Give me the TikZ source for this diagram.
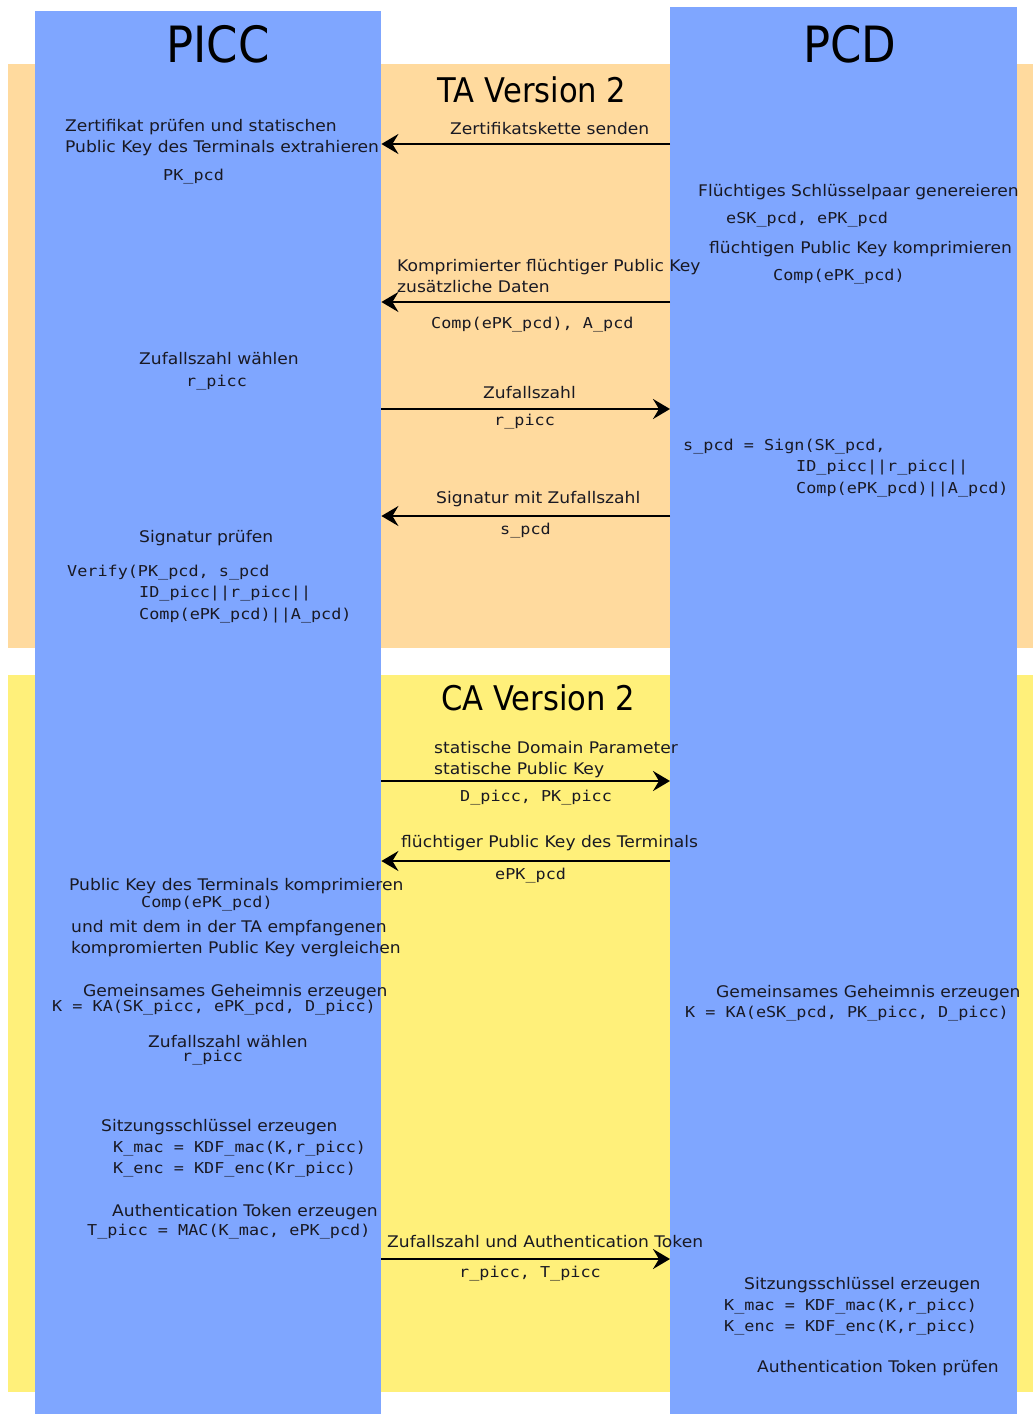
\documentclass[tikz,border=0pt]{standalone}
\usepackage{fontspec}
\setmainfont{DejaVu Sans}[FakeStretch=1.07]
\newfontfamily\titlefont{DejaVu Sans}[FakeStretch=0.9]
\newfontfamily\codefont{DejaVu Sans Mono}[FakeStretch=1.12]
\usetikzlibrary{arrows.meta}
\definecolor{taband}{RGB}{255,218,158}
\definecolor{caband}{RGB}{255,240,122}
\definecolor{lane}{RGB}{127,166,255}
\definecolor{ink}{RGB}{25,25,35}

\begin{document}
\begin{tikzpicture}[x=1pt,y=-1pt,
  txt/.style={inner sep=0pt, anchor=base west, text=ink, font=\fontsize{16}{19}\selectfont},
  code/.style={txt, font=\codefont\fontsize{15}{18}\selectfont},
  title/.style={inner sep=0pt, anchor=base, text=black, font=\titlefont\fontsize{50}{54}\selectfont},
  phase/.style={inner sep=0pt, anchor=base, text=black, font=\titlefont\fontsize{34}{38}\selectfont},
  band/.style={draw=none, inner sep=0pt, anchor=north west},
  lanebox/.style={fill=lane, draw=none, inner sep=0pt, anchor=north west},
  msg/.style={line width=2.5pt, -{Stealth[length=17pt,width=20pt,inset=6pt]}},
]
\useasboundingbox (0,0) rectangle (1033,1414);

% protocol phases
\node[band, fill=taband, minimum width=1025pt, minimum height=584pt] (ta) at (8,64) {};
\node[band, fill=caband, minimum width=1025pt, minimum height=717pt] (ca) at (8,675) {};

% participants
\node[lanebox, minimum width=346pt, minimum height=1403pt] (picc) at (35,11) {};
\node[lanebox, minimum width=347pt, minimum height=1407pt] (pcd) at (670,7) {};

\node[title] (piccT) at (218,62) {PICC};
\node[title] (pcdT) at (850,62) {PCD};
\node[phase] (taT) at (532,102) {TA Version 2};
\node[phase] (caT) at (538,710) {CA Version 2};

% ---------- Terminal Authentication ----------
\draw[msg] (pcd.west |- 0,144) -- (picc.east |- 0,144);
\node[txt] (m1) at (450,134) {Zertifikatskette senden};

\node[txt] (p1a) at (65,131) {Zertifikat prüfen und statischen};
\node[txt] (p1b) at (65,152) {Public Key des Terminals extrahieren};
\node[code] (p1c) at (163,180) {PK\_pcd};

\node[txt] (d1a) at (698,196) {Flüchtiges Schlüsselpaar genereieren};
\node[code] (d1b) at (726,223) {eSK\_pcd, ePK\_pcd};
\node[txt] (d1c) at (709,253) {flüchtigen Public Key komprimieren};
\node[code] (d1d) at (773,280) {Comp(ePK\_pcd)};

\draw[msg] (pcd.west |- 0,302) -- (picc.east |- 0,302);
\node[txt] (m2a) at (397,271) {Komprimierter flüchtiger Public Key};
\node[txt] (m2b) at (397,292) {zusätzliche Daten};
\node[code] (m2c) at (431,328) {Comp(ePK\_pcd), A\_pcd};

\node[txt] (p2a) at (139,364) {Zufallszahl wählen};
\node[code] (p2b) at (186,386) {r\_picc};

\draw[msg] (picc.east |- 0,409) -- (pcd.west |- 0,409);
\node[txt] (m3a) at (483,398) {Zufallszahl};
\node[code] (m3b) at (494,425) {r\_picc};

\node[code] (d2a) at (683,450) {s\_pcd = Sign(SK\_pcd,};
\node[code] (d2b) at (796,471) {ID\_picc||r\_picc||};
\node[code] (d2c) at (796,493) {Comp(ePK\_pcd)||A\_pcd)};

\draw[msg] (pcd.west |- 0,516) -- (picc.east |- 0,516);
\node[txt] (m4a) at (436,503) {Signatur mit Zufallszahl};
\node[code] (m4b) at (500,534) {s\_pcd};

\node[txt] (p3a) at (139,542) {Signatur prüfen};
\node[code] (p3b) at (67,576) {Verify(PK\_pcd, s\_pcd};
\node[code] (p3c) at (139,597) {ID\_picc||r\_picc||};
\node[code] (p3d) at (139,619) {Comp(ePK\_pcd)||A\_pcd)};

% ---------- Chip Authentication ----------
\draw[msg] (picc.east |- 0,781) -- (pcd.west |- 0,781);
\node[txt] (m5a) at (434,753) {statische Domain Parameter};
\node[txt] (m5b) at (434,774) {statische Public Key};
\node[code] (m5c) at (460,801) {D\_picc, PK\_picc};

\draw[msg] (pcd.west |- 0,861) -- (picc.east |- 0,861);
\node[txt] (m6a) at (401,847) {flüchtiger Public Key des Terminals};
\node[code] (m6b) at (495,879) {ePK\_pcd};

\node[txt] (p4a) at (69,890) {Public Key des Terminals komprimieren};
\node[code] (p4b) at (141,907) {Comp(ePK\_pcd)};
\node[txt] (p4c) at (71,932) {und mit dem in der TA empfangenen};
\node[txt] (p4d) at (71,953) {kompromierten Public Key vergleichen};

\node[txt] (p5a) at (83,996) {Gemeinsames Geheimnis erzeugen};
\node[code] (p5b) at (52,1011) {K = KA(SK\_picc, ePK\_pcd, D\_picc)};

\node[txt] (d3a) at (716,997) {Gemeinsames Geheimnis erzeugen};
\node[code] (d3b) at (685,1017) {K = KA(eSK\_pcd, PK\_picc, D\_picc)};

\node[txt] (p6a) at (148,1047) {Zufallszahl wählen};
\node[code] (p6b) at (182,1061) {r\_picc};

\node[txt] (p7a) at (101,1131) {Sitzungsschlüssel erzeugen};
\node[code] (p7b) at (113,1152) {K\_mac = KDF\_mac(K,r\_picc)};
\node[code] (p7c) at (113,1173) {K\_enc = KDF\_enc(Kr\_picc)};

\node[txt] (p8a) at (112,1216) {Authentication Token erzeugen};
\node[code] (p8b) at (87,1235) {T\_picc = MAC(K\_mac, ePK\_pcd)};

\draw[msg] (picc.east |- 0,1259) -- (pcd.west |- 0,1259);
\node[txt] (m7a) at (387,1247) {Zufallszahl und Authentication Token};
\node[code] (m7b) at (459,1277) {r\_picc, T\_picc};

\node[txt] (d4a) at (744,1289) {Sitzungsschlüssel erzeugen};
\node[code] (d4b) at (724,1310) {K\_mac = KDF\_mac(K,r\_picc)};
\node[code] (d4c) at (724,1331) {K\_enc = KDF\_enc(K,r\_picc)};
\node[txt] (d5) at (757,1372) {Authentication Token prüfen};

\end{tikzpicture}
\end{document}
